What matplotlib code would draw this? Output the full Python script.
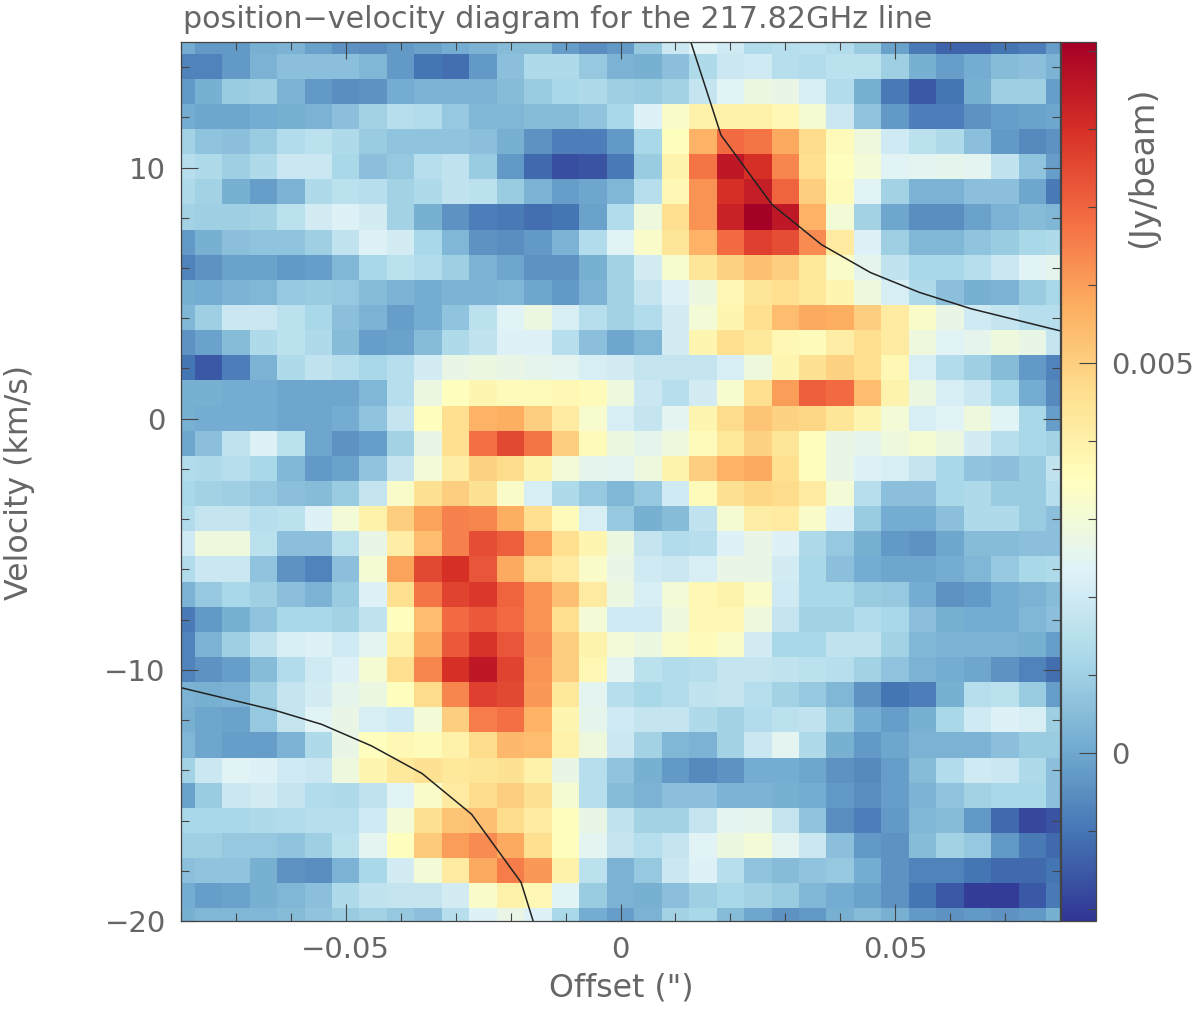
import numpy as np
import matplotlib
matplotlib.use("Agg")
import matplotlib.pyplot as plt
from matplotlib.ticker import FixedLocator, FixedFormatter

# channel map, rows run from +15 km/s down to -20 km/s, units 1e-4 Jy/beam
flux_rows = [
    [1, -3, -3, 2, 3, -1, -4, -5, -3, -1, 1, 3, 5, 5, -2, -5, -3, 8, 19, 24, 20, 14, 15, 16, 14, 9, -1, -9, -13, -13, -10, -8, -2],
    [-7, -7, -3, 3, 6, 6, 6, 4, -3, -10, -11, -3, 6, 13, 13, 8, 3, 2, 6, 13, 19, 20, 15, 14, 16, 16, 10, 2, -2, 1, 5, 6, 3],
    [-3, 2, 9, 10, 3, -3, -5, -4, 1, 3, 3, 3, 5, 9, 12, 13, 10, 9, 11, 18, 24, 28, 27, 22, 14, 2, -9, -15, -10, 2, 10, 10, -2],
    [1, 0, 0, 1, 2, 3, 6, 11, 15, 14, 8, 4, 4, 5, 5, 7, 12, 23, 33, 40, 40, 40, 37, 31, 19, 7, -3, -8, -8, -4, -2, -1, 0],
    [11, 7, 6, 9, 14, 16, 13, 9, 7, 7, 7, 6, 2, -4, -8, -8, -3, 12, 35, 56, 69, 67, 58, 47, 36, 29, 20, 16, 13, 6, -3, -6, -4],
    [15, 13, 10, 13, 19, 19, 12, 6, 8, 15, 17, 9, -3, -12, -17, -16, -9, 9, 39, 67, 85, 80, 64, 46, 35, 30, 24, 25, 26, 25, 17, 7, -2],
    [13, 11, 2, -2, 3, 13, 16, 15, 11, 13, 17, 16, 9, 3, -2, 0, 4, 15, 37, 62, 80, 84, 70, 50, 36, 24, 11, 3, 3, 6, 6, 0, -9],
    [11, 10, 10, 11, 16, 21, 23, 21, 11, 2, -4, -8, -9, -11, -10, -1, 14, 29, 46, 62, 83, 91, 85, 56, 30, 11, 0, -5, -5, -1, 3, 5, 4],
    [-3, 2, 6, 7, 7, 10, 17, 23, 21, 12, 4, -4, -5, -3, 3, 14, 24, 33, 44, 56, 69, 77, 74, 63, 42, 23, 10, 4, 4, 7, 9, 12, 13],
    [-7, -4, -1, -1, -3, -2, 4, 12, 16, 14, 10, 3, 0, -4, -4, 2, 11, 21, 32, 44, 49, 53, 50, 43, 33, 26, 17, 12, 12, 15, 19, 24, 26],
    [2, 1, 3, 4, 8, 9, 8, 5, 3, 1, 3, 3, 4, 0, -3, 3, 11, 18, 23, 28, 37, 44, 46, 43, 38, 29, 22, 13, 6, 2, 3, 9, 12],
    [4, 10, 19, 19, 16, 12, 6, 3, -2, 1, 7, 16, 24, 28, 22, 15, 11, 14, 21, 30, 38, 46, 54, 58, 57, 50, 42, 33, 27, 20, 18, 15, 15],
    [-4, -1, 5, 13, 16, 13, 5, -2, -1, 5, 13, 17, 23, 23, 15, 6, 0, 4, 21, 38, 46, 43, 37, 36, 41, 46, 42, 29, 24, 26, 29, 27, 18],
    [-10, -15, -8, 3, 13, 17, 15, 12, 15, 21, 27, 28, 27, 26, 25, 22, 21, 18, 18, 18, 22, 29, 38, 45, 49, 46, 37, 22, 14, 10, 5, -3, -7],
    [2, 2, 1, 1, 0, 0, 0, 4, 15, 28, 35, 38, 36, 36, 37, 36, 29, 19, 15, 21, 32, 46, 60, 71, 69, 54, 39, 28, 22, 19, 12, 1, -6],
    [2, 1, 1, 1, 0, 0, 1, 7, 18, 35, 46, 56, 57, 50, 42, 32, 22, 18, 25, 38, 47, 52, 49, 48, 44, 38, 30, 22, 24, 29, 24, 12, -2],
    [0, 6, 17, 23, 16, 0, -4, -2, 11, 27, 46, 68, 75, 67, 50, 36, 28, 26, 29, 36, 43, 49, 44, 35, 27, 26, 29, 31, 28, 21, 15, 12, 11],
    [14, 13, 15, 12, 4, -3, -1, 7, 18, 30, 41, 49, 47, 39, 30, 26, 25, 29, 39, 50, 56, 58, 46, 35, 27, 23, 22, 18, 12, 7, 6, 9, 17],
    [12, 11, 10, 8, 6, 5, 9, 18, 33, 45, 50, 45, 33, 22, 13, 8, 4, 8, 20, 36, 45, 48, 47, 42, 30, 15, 6, 6, 12, 13, 9, 9, 15],
    [14, 18, 18, 15, 16, 23, 30, 40, 50, 59, 65, 64, 57, 46, 36, 22, 8, 2, 5, 17, 31, 41, 42, 33, 23, 9, 1, 1, 6, 13, 13, 9, 6],
    [20, 29, 29, 16, 6, 6, 16, 27, 41, 54, 65, 74, 71, 59, 46, 38, 28, 18, 14, 15, 23, 27, 23, 13, 8, 2, -3, -4, 0, 5, 5, 6, 6],
    [14, 19, 19, 7, -4, -7, 6, 31, 59, 75, 80, 73, 58, 47, 42, 33, 27, 20, 19, 22, 27, 27, 21, 12, 6, 1, 0, 0, 1, 4, 8, 12, 13],
    [3, 8, 12, 10, 6, 3, 9, 23, 46, 67, 76, 78, 70, 62, 53, 42, 28, 22, 30, 37, 39, 33, 20, 12, 12, 9, 8, 1, -4, -3, 1, 3, 5],
    [-9, -3, 2, 7, 12, 12, 11, 17, 35, 54, 69, 72, 69, 62, 46, 30, 20, 20, 29, 37, 37, 29, 18, 11, 11, 14, 12, 6, 2, 1, 1, 4, 6],
    [-7, 3, 10, 17, 22, 23, 20, 25, 40, 58, 72, 79, 73, 63, 50, 39, 30, 28, 33, 36, 33, 21, 12, 12, 17, 17, 11, 4, 3, 3, 3, 2, -2],
    [-7, -4, -2, 5, 14, 20, 23, 31, 46, 64, 80, 85, 76, 62, 50, 37, 25, 16, 14, 15, 18, 18, 17, 16, 15, 11, 7, 3, 1, 0, -4, -7, -11],
    [3, 2, 3, 10, 18, 21, 26, 28, 35, 47, 64, 77, 75, 61, 43, 25, 15, 12, 14, 17, 18, 15, 11, 8, 4, -4, -10, -8, 2, 15, 16, 9, -2],
    [2, 0, -1, 8, 18, 24, 27, 22, 20, 30, 50, 66, 68, 56, 38, 26, 20, 18, 18, 13, 11, 14, 16, 17, 9, 1, -2, 2, 12, 20, 23, 22, 10],
    [4, 0, -2, -2, 3, 13, 27, 35, 37, 36, 40, 47, 55, 54, 40, 29, 19, 11, 4, 3, 11, 19, 25, 13, 2, -3, 0, 3, 3, 3, 6, 9, 9],
    [11, 19, 24, 23, 20, 19, 29, 38, 43, 45, 43, 44, 45, 40, 27, 15, 7, 2, -3, -6, -4, 1, 1, 0, -4, -6, -2, 5, 14, 20, 19, 13, 6],
    [-1, 9, 19, 21, 18, 14, 13, 17, 24, 33, 42, 47, 50, 45, 31, 15, 5, 3, 6, 6, 3, 3, 2, 1, -3, -5, -2, 3, 7, 11, 12, 12, 6],
    [12, 12, 12, 13, 14, 15, 15, 20, 30, 45, 52, 53, 47, 42, 35, 27, 17, 11, 11, 18, 25, 26, 18, 7, -5, -8, -3, 4, 5, -3, -12, -18, -16],
    [10, 10, 8, 8, 7, 10, 16, 25, 35, 51, 60, 63, 58, 46, 35, 25, 18, 15, 18, 24, 28, 30, 25, 19, 6, -3, -4, 5, 11, 8, -3, -9, -12],
    [6, 7, 7, 2, -4, -5, 3, 12, 21, 30, 42, 58, 66, 61, 40, 16, 3, 8, 19, 23, 15, 7, 5, 7, 8, 1, -4, -7, -7, -10, -12, -12, -10],
    [1, -2, -1, 2, 4, 6, 13, 17, 18, 18, 21, 33, 40, 37, 24, 9, 3, 2, 6, 10, 12, 11, 9, 4, 1, -1, -4, -10, -15, -20, -20, -15, -9],
    [2, 4, 4, 4, 5, 7, 9, 11, 8, 6, 15, 23, 27, 23, 12, 1, -2, 3, 11, 12, 5, 0, -4, -3, 2, 5, 2, -3, -4, -3, -4, -3, 2],
]

# rotation curve traced over the map, (offset in arcsec, velocity in km/s)
upper_curve_offset = [0.0128, 0.0183, 0.0276, 0.0366, 0.0455, 0.0544, 0.0638, 0.08]
upper_curve_velocity = [15.0, 11.29, 8.52, 6.93, 5.82, 5.03, 4.38, 3.5]
lower_curve_offset = [-0.08, -0.0629, -0.0544, -0.0453, -0.0361, -0.0271, -0.0181, -0.0159]
lower_curve_velocity = [-10.71, -11.61, -12.17, -13.03, -14.13, -15.75, -18.46, -20.0]

TEXT_COLOR = "#666666"
FRAME_COLOR = "#444444"
TICK_SIZE = 21
LABEL_SIZE = 22.8


def style_axis(axis):
    axis.set_xlim(-0.08, 0.08)
    axis.set_ylim(-20, 15)
    axis.xaxis.set_major_locator(FixedLocator([-0.05, 0, 0.05]))
    axis.xaxis.set_major_formatter(FixedFormatter(["\u22120.05", "0", "0.05"]))
    axis.xaxis.set_minor_locator(FixedLocator(np.arange(-8, 9) / 100))
    axis.yaxis.set_major_locator(FixedLocator([-20, -10, 0, 10]))
    axis.yaxis.set_major_formatter(FixedFormatter(["\u221220", "\u221210", "0", "10"]))
    axis.yaxis.set_minor_locator(FixedLocator(np.arange(-20, 16, 2)))
    axis.tick_params(which="major", direction="in", top=True, right=True, length=12,
                     width=0.8, color=FRAME_COLOR, labelcolor=TEXT_COLOR,
                     labelsize=TICK_SIZE, pad=11)
    axis.tick_params(which="minor", direction="in", top=True, right=True, length=6,
                     width=0.8, color=FRAME_COLOR)
    for spine in axis.spines.values():
        spine.set_color(FRAME_COLOR)
        spine.set_linewidth(0.9)


def plot_pv_diagram():
    fig = plt.figure(figsize=(12, 10.13), dpi=100, facecolor="white")
    ax = fig.add_axes([181 / 1200, 1 - 921 / 1013, 879 / 1200, 879 / 1013])
    cax = fig.add_axes([1061 / 1200, 1 - 921 / 1013, 35 / 1200, 879 / 1013])

    flux = np.array(flux_rows) * 1e-4
    image = ax.imshow(
        flux,
        cmap="RdYlBu_r",
        vmin=-0.00215,
        vmax=0.00911,
        origin="upper",
        aspect="auto",
        interpolation="nearest",
        extent=[-0.0825, 0.0825, -20.5, 15.5],
    )
    ax.plot(upper_curve_offset, upper_curve_velocity, color="#222222", lw=1.1)
    ax.plot(lower_curve_offset, lower_curve_velocity, color="#222222", lw=1.1)
    style_axis(ax)

    fig.text(621 / 1200, 1 - 988 / 1013, "Offset (\")", ha="center", va="center",
             fontsize=LABEL_SIZE, color=TEXT_COLOR)
    fig.text(20 / 1200, 1 - 482 / 1013, "Velocity (km/s)", rotation=90, ha="center",
             va="center", fontsize=LABEL_SIZE, color=TEXT_COLOR)
    fig.text(183 / 1200, 1 - 19 / 1013, "position\u2212velocity diagram for the 217.82GHz line",
             ha="left", va="center", fontsize=21.7, color=TEXT_COLOR)

    cbar = fig.colorbar(image, cax=cax)
    cbar.set_ticks([0, 0.005], labels=["0", "0.005"])
    cbar.ax.yaxis.set_minor_locator(FixedLocator(np.arange(-2, 10) / 1000))
    cbar.ax.tick_params(which="major", direction="in", right=True, length=12, width=0.8,
                        color=FRAME_COLOR, labelcolor=TEXT_COLOR, labelsize=TICK_SIZE, pad=11)
    cbar.ax.tick_params(which="minor", direction="in", right=True, length=6, width=0.8,
                        color=FRAME_COLOR)
    cbar.outline.set_edgecolor(FRAME_COLOR)
    cbar.outline.set_linewidth(0.9)
    fig.text(1143 / 1200, 1 - 167 / 1013, "(Jy/beam)", rotation=90, ha="center", va="center",
             fontsize=24, color=TEXT_COLOR)

    fig.savefig("out.png", dpi=100, facecolor="white")
    plt.close(fig)


if __name__ == "__main__":
    plot_pv_diagram()
